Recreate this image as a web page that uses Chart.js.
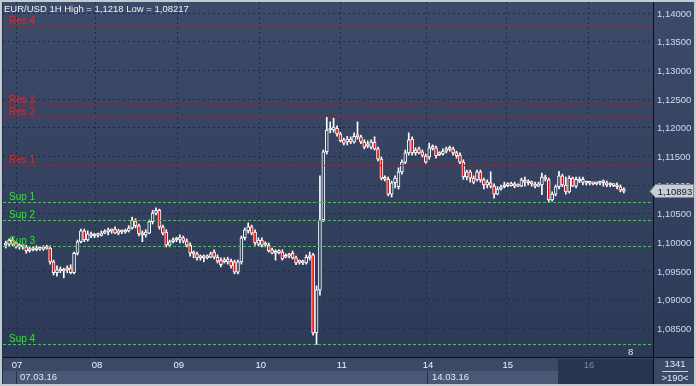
<!DOCTYPE html>
<html>
<head>
<meta charset="utf-8">
<script src="https://cdn.jsdelivr.net/npm/chart.js@4.4.0/dist/chart.umd.min.js"></script>
<style>
html, body { margin: 0; padding: 0; background: #c4cad2; }
canvas { display: block; }
</style>
</head>
<body>
<canvas id="chart" width="696" height="386"></canvas>
<script>
// EUR/USD 1H candles, 07.03.16 - 16.03.16
const opens = [
  1.0995, 1.0997, 1.1004, 1.0999, 1.0992, 1.0994, 1.0992, 1.0985, 1.0988, 1.0987,
  1.0990, 1.0988, 1.0992, 1.0990, 1.0966, 1.0947, 1.0952, 1.0950, 1.0952, 1.0955,
  1.0947, 1.0981, 1.1001, 1.1020, 1.1004, 1.1015, 1.1011, 1.1013, 1.1012, 1.1016,
  1.1018, 1.1022, 1.1023, 1.1016, 1.1020, 1.1018, 1.1020, 1.1025, 1.1037, 1.1029,
  1.1016, 1.1013, 1.1016, 1.1036, 1.1051, 1.1056, 1.1027, 1.1018, 1.0995, 1.1001,
  1.1004, 1.1004, 1.1008, 1.1002, 1.0995, 1.0981, 1.0980, 1.0973, 1.0974, 1.0973,
  1.0974, 1.0983, 1.0974, 1.0969, 1.0966, 1.0971, 1.0967, 1.0966, 1.0948, 1.0966,
  1.1008, 1.1020, 1.1027, 1.1018, 1.0997, 1.1004, 1.0995, 1.0995, 1.0987, 1.0981,
  1.0983, 1.0983, 1.0974, 1.0976, 1.0981, 1.0973, 1.0966, 1.0965, 1.0964, 1.0976,
  1.0978, 1.0842, 1.0917, 1.1039, 1.1158, 1.1196, 1.1196, 1.1199, 1.1189, 1.1179,
  1.1175, 1.1180, 1.1175, 1.1185, 1.1184, 1.1175, 1.1172, 1.1166, 1.1175, 1.1163,
  1.1145, 1.1112, 1.1110, 1.1084, 1.1104, 1.1097, 1.1123, 1.1140, 1.1156, 1.1180,
  1.1156, 1.1163, 1.1158, 1.1151, 1.1149, 1.1165, 1.1165, 1.1154, 1.1154, 1.1159,
  1.1163, 1.1163, 1.1156, 1.1152, 1.1140, 1.1114, 1.1123, 1.1112, 1.1109, 1.1123,
  1.1109, 1.1100, 1.1104, 1.1098, 1.1084, 1.1093, 1.1097, 1.1100, 1.1099, 1.1102,
  1.1098, 1.1098, 1.1107, 1.1105, 1.1104, 1.1100, 1.1098, 1.1100, 1.1114, 1.1109,
  1.1074, 1.1084, 1.1097, 1.1116, 1.1100, 1.1088, 1.1112, 1.1098, 1.1110, 1.1105,
  1.1104, 1.1103, 1.1104, 1.1102, 1.1103, 1.1107, 1.1104, 1.1100, 1.1100, 1.1099,
  1.1097, 1.1091
];
const highs = [
  1.1002, 1.1006, 1.1008, 1.1001, 1.0997, 1.0995, 1.0995, 1.0992, 1.0992, 1.0994,
  1.0992, 1.0994, 1.0995, 1.0994, 1.0969, 1.0959, 1.0957, 1.0955, 1.0959, 1.0961,
  1.0983, 1.1004, 1.1023, 1.1023, 1.1020, 1.1018, 1.1016, 1.1016, 1.1020, 1.1022,
  1.1025, 1.1023, 1.1027, 1.1023, 1.1022, 1.1023, 1.1029, 1.1044, 1.1041, 1.1032,
  1.1020, 1.1022, 1.1039, 1.1056, 1.1060, 1.1058, 1.1030, 1.1022, 1.1004, 1.1008,
  1.1009, 1.1013, 1.1011, 1.1006, 1.0999, 1.0985, 1.0983, 1.0978, 1.0978, 1.0978,
  1.0983, 1.0987, 1.0978, 1.0973, 1.0973, 1.0974, 1.0971, 1.0969, 1.0969, 1.1011,
  1.1025, 1.1034, 1.1030, 1.1022, 1.1008, 1.1008, 1.1001, 1.0999, 1.0990, 1.0987,
  1.0987, 1.0987, 1.0980, 1.0981, 1.0985, 1.0976, 1.0969, 1.0969, 1.0978, 1.0983,
  1.0981, 1.0924, 1.1116, 1.1161, 1.1218, 1.1210, 1.1217, 1.1203, 1.1192, 1.1182,
  1.1185, 1.1184, 1.1191, 1.1210, 1.1187, 1.1179, 1.1177, 1.1179, 1.1184, 1.1166,
  1.1149, 1.1116, 1.1114, 1.1107, 1.1116, 1.1130, 1.1144, 1.1161, 1.1191, 1.1184,
  1.1165, 1.1166, 1.1161, 1.1154, 1.1173, 1.1170, 1.1168, 1.1158, 1.1163, 1.1166,
  1.1168, 1.1166, 1.1159, 1.1156, 1.1144, 1.1126, 1.1126, 1.1116, 1.1126, 1.1126,
  1.1112, 1.1109, 1.1123, 1.1102, 1.1097, 1.1100, 1.1105, 1.1104, 1.1105, 1.1105,
  1.1102, 1.1112, 1.1114, 1.1109, 1.1107, 1.1105, 1.1105, 1.1121, 1.1117, 1.1112,
  1.1088, 1.1100, 1.1124, 1.1119, 1.1114, 1.1116, 1.1114, 1.1114, 1.1114, 1.1114,
  1.1107, 1.1105, 1.1105, 1.1105, 1.1107, 1.1109, 1.1107, 1.1104, 1.1102, 1.1104,
  1.1100, 1.1095
];
const lows = [
  1.0990, 1.0994, 1.0994, 1.0990, 1.0988, 1.0988, 1.0981, 1.0983, 1.0985, 1.0985,
  1.0986, 1.0986, 1.0988, 1.0962, 1.0943, 1.0941, 1.0947, 1.0938, 1.0947, 1.0945,
  1.0945, 1.0978, 1.0999, 1.1001, 1.1002, 1.1008, 1.1008, 1.1009, 1.1011, 1.1015,
  1.1013, 1.1016, 1.1015, 1.1013, 1.1015, 1.1016, 1.1018, 1.1023, 1.1025, 1.1011,
  1.1001, 1.1009, 1.1015, 1.1032, 1.1048, 1.1023, 1.1013, 1.0992, 1.0992, 1.0999,
  1.1001, 1.0999, 1.0999, 1.0992, 1.0976, 1.0973, 1.0969, 1.0969, 1.0966, 1.0971,
  1.0973, 1.0971, 1.0964, 1.0957, 1.0964, 1.0962, 1.0955, 1.0945, 1.0945, 1.0962,
  1.1004, 1.1016, 1.1013, 1.0995, 1.0994, 1.0992, 1.0992, 1.0983, 1.0980, 1.0969,
  1.0980, 1.0969, 1.0973, 1.0973, 1.0971, 1.0961, 1.0962, 1.0961, 1.0962, 1.0969,
  1.0838, 1.08217, 1.0908, 1.1036, 1.1154, 1.1191, 1.1192, 1.1185, 1.1175, 1.1170,
  1.1170, 1.1172, 1.1173, 1.1180, 1.1172, 1.1163, 1.1165, 1.1163, 1.1161, 1.1142,
  1.1109, 1.1107, 1.1081, 1.1079, 1.1095, 1.1093, 1.1119, 1.1137, 1.1152, 1.1152,
  1.1152, 1.1154, 1.1149, 1.1138, 1.1145, 1.1161, 1.1147, 1.1151, 1.1152, 1.1156,
  1.1159, 1.1152, 1.1147, 1.1137, 1.1110, 1.1109, 1.1105, 1.1102, 1.1107, 1.1105,
  1.1093, 1.1095, 1.1095, 1.1077, 1.1083, 1.1091, 1.1095, 1.1097, 1.1098, 1.1095,
  1.1097, 1.1097, 1.1098, 1.1100, 1.1098, 1.1095, 1.1097, 1.1083, 1.1107, 1.1070,
  1.1072, 1.1081, 1.1093, 1.1097, 1.1084, 1.1086, 1.1097, 1.1095, 1.1104, 1.1100,
  1.1100, 1.1100, 1.1100, 1.1100, 1.1100, 1.1098, 1.1097, 1.1097, 1.1097, 1.1093,
  1.1088, 1.1086
];
const closes = [
  1.0997, 1.1004, 1.0997, 1.0992, 1.0994, 1.0992, 1.0985, 1.0988, 1.0987, 1.0990,
  1.0988, 1.0992, 1.0990, 1.0966, 1.0947, 1.0952, 1.0950, 1.0952, 1.0955, 1.0947,
  1.0981, 1.1001, 1.1020, 1.1004, 1.1015, 1.1011, 1.1013, 1.1012, 1.1016, 1.1018,
  1.1022, 1.1020, 1.1016, 1.1020, 1.1018, 1.1020, 1.1025, 1.1039, 1.1029, 1.1015,
  1.1013, 1.1018, 1.1036, 1.1051, 1.1056, 1.1027, 1.1016, 1.0995, 1.1001, 1.1004,
  1.1005, 1.1009, 1.1002, 1.0995, 1.0981, 1.0980, 1.0973, 1.0974, 1.0973, 1.0974,
  1.0980, 1.0974, 1.0967, 1.0961, 1.0969, 1.0966, 1.0959, 1.0948, 1.0966, 1.1008,
  1.1022, 1.1027, 1.1016, 1.0999, 1.1004, 1.0995, 1.0997, 1.0985, 1.0981, 1.0983,
  1.0982, 1.0971, 1.0976, 1.0978, 1.0973, 1.0964, 1.0965, 1.0964, 1.0974, 1.0973,
  1.0842, 1.0917, 1.1039, 1.1158, 1.1196, 1.1199, 1.1201, 1.1189, 1.1177, 1.1173,
  1.1180, 1.1175, 1.1185, 1.1184, 1.1175, 1.1166, 1.1168, 1.1175, 1.1163, 1.1145,
  1.1112, 1.1110, 1.1084, 1.1104, 1.1112, 1.1123, 1.1140, 1.1156, 1.1179, 1.1156,
  1.1161, 1.1156, 1.1152, 1.1140, 1.1165, 1.1164, 1.1151, 1.1153, 1.1159, 1.1163,
  1.1162, 1.1156, 1.1151, 1.1140, 1.1114, 1.1123, 1.1112, 1.1105, 1.1123, 1.1109,
  1.1100, 1.1105, 1.1098, 1.1084, 1.1093, 1.1097, 1.1100, 1.1099, 1.1102, 1.1098,
  1.1099, 1.1109, 1.1105, 1.1104, 1.1102, 1.1098, 1.1102, 1.1114, 1.1110, 1.1074,
  1.1084, 1.1097, 1.1116, 1.1100, 1.1088, 1.1112, 1.1098, 1.1110, 1.1107, 1.1110,
  1.1103, 1.1104, 1.1102, 1.1103, 1.1104, 1.1104, 1.1100, 1.1100, 1.1099, 1.1097,
  1.1091, 1.10893
];

const dayTicks = [3.0, 26.4, 50.35, 74.35, 98.1, 123.35, 146.7, 170.5];
const dayLabels = ['07', '08', '09', '10', '11', '14', '15', '16'];
const priceTicks = [1.085, 1.09, 1.095, 1.1, 1.105, 1.11, 1.115, 1.12, 1.125, 1.13, 1.135, 1.14];
const levelNames = ['Res 4', 'Res 3', 'Res 2', 'Res 1', 'Sup 1', 'Sup 2', 'Sup 3', 'Sup 4'];
const levelValues = [1.1377, 1.1240, 1.1218, 1.1135, 1.1070, 1.1039, 1.0994, 1.0822];
const lastPrice = 1.10893;
const titleText = 'EUR/USD 1H High = 1,1218 Low = 1,08217';

const FONT = "'Liberation Sans', Arial, sans-serif";
const fmt = v => v.toFixed(5).replace('.', ',');

let plotGrad = null;
function plotFill(chart) {
  if (!plotGrad) {
    plotGrad = chart.ctx.createLinearGradient(0, 2, 0, 357);
    plotGrad.addColorStop(0, '#3d4b6a');
    plotGrad.addColorStop(1, '#2c3a57');
  }
  return plotGrad;
}

const bodies = opens.map((o, i) => ({ x: i, y: [Math.min(o, closes[i]), Math.max(o, closes[i])] }));
const wicks = highs.map((h, i) => ({ x: i, y: [lows[i], h] }));

const terminal = {
  id: 'terminal',
  beforeDraw(chart) {
    const ctx = chart.ctx;
    const a = chart.chartArea;
    ctx.save();
    ctx.fillStyle = '#c4cad2';
    ctx.fillRect(0, 0, 696, 386);
    ctx.fillStyle = plotFill(chart);
    ctx.fillRect(2, 2, 692, a.bottom - 2);
    ctx.fillStyle = '#3b4967';
    ctx.fillRect(2, a.bottom, 692, 384 - a.bottom);
    ctx.fillStyle = '#4a5876';
    ctx.fillRect(3, 371, 555, 13);
    ctx.fillStyle = '#29354f';
    ctx.fillRect(558, a.bottom + 2, a.right - 558, 384 - a.bottom - 2);
    ctx.restore();
  },
  afterDatasetsDraw(chart) {
    const ctx = chart.ctx;
    const a = chart.chartArea;
    const y = chart.scales.y;
    ctx.save();
    ctx.beginPath();
    ctx.rect(a.left, a.top, a.right - a.left, a.bottom - a.top);
    ctx.clip();
    levelValues.forEach((v, i) => {
      const res = levelNames[i].startsWith('Res');
      const py = Math.round(y.getPixelForValue(v)) + 0.5;
      ctx.strokeStyle = res ? '#cc1111' : '#22dd22';
      ctx.lineWidth = 1;
      ctx.setLineDash([3, 2]);
      ctx.beginPath();
      ctx.moveTo(a.left, py);
      ctx.lineTo(a.right, py);
      ctx.stroke();
      ctx.setLineDash([]);
      ctx.fillStyle = res ? '#ff1a1a' : '#22ee22';
      ctx.font = '10px ' + FONT;
      ctx.textBaseline = 'alphabetic';
      ctx.textAlign = 'left';
      ctx.fillText(levelNames[i], 9, py - 3);
    });
    ctx.restore();
  },
  afterDraw(chart) {
    const ctx = chart.ctx;
    const a = chart.chartArea;
    const x = chart.scales.x;
    const y = chart.scales.y;
    ctx.save();
    ctx.strokeStyle = '#0a0f18';
    ctx.lineWidth = 1;
    ctx.beginPath();
    ctx.moveTo(a.right + 0.5, 2);
    ctx.lineTo(a.right + 0.5, 384);
    ctx.moveTo(2, a.bottom + 0.5);
    ctx.lineTo(694, a.bottom + 0.5);
    ctx.stroke();
    ctx.strokeStyle = '#25324c';
    ctx.beginPath();
    ctx.moveTo(2.5, 2);
    ctx.lineTo(2.5, 384);
    ctx.moveTo(16.5, 371);
    ctx.lineTo(16.5, 384);
    ctx.moveTo(427.5, 371);
    ctx.lineTo(427.5, 384);
    ctx.stroke();

    // price axis labels
    ctx.font = '9.5px ' + FONT;
    ctx.fillStyle = '#cddbf2';
    ctx.textAlign = 'left';
    ctx.textBaseline = 'middle';
    priceTicks.forEach(v => ctx.fillText(fmt(v), a.right + 4, y.getPixelForValue(v) + 1));

    // day labels
    ctx.textAlign = 'center';
    dayTicks.forEach((t, i) => {
      ctx.fillStyle = i === 7 ? '#7c89a0' : '#eef2f8';
      ctx.fillText(dayLabels[i], x.getPixelForValue(t) + 1, 365);
    });

    // title
    ctx.textAlign = 'left';
    ctx.font = '9.5px ' + FONT;
    ctx.fillStyle = '#eef0f4';
    ctx.fillText(titleText, 4, 9);

    // date row
    ctx.font = '9.5px ' + FONT;
    ctx.fillStyle = '#e4e9f0';
    ctx.fillText('07.03.16', 20, 377);
    ctx.fillText('14.03.16', 432, 377);
    ctx.fillText('8', 628, 352);

    // bar counter box
    ctx.textAlign = 'center';
    ctx.fillText('1341', 675, 364);
    ctx.fillText('>190<', 675, 378);
    ctx.strokeStyle = '#c8d0dc';
    ctx.beginPath();
    ctx.moveTo(662, 371.5);
    ctx.lineTo(688, 371.5);
    ctx.stroke();

    // last price marker
    const py = Math.round(y.getPixelForValue(lastPrice));
    ctx.fillStyle = '#c9cdd3';
    ctx.strokeStyle = '#7e8796';
    ctx.beginPath();
    ctx.moveTo(650, py + 0.5);
    ctx.lineTo(655.5, py - 6.5);
    ctx.lineTo(693.5, py - 6.5);
    ctx.lineTo(693.5, py + 6.5);
    ctx.lineTo(655.5, py + 6.5);
    ctx.closePath();
    ctx.fill();
    ctx.stroke();
    ctx.fillStyle = '#15181e';
    ctx.font = '9.5px ' + FONT;
    ctx.textBaseline = 'middle';
    ctx.fillText(fmt(lastPrice), 675, py + 1);
    ctx.restore();
  }
};

new Chart(document.getElementById('chart'), {
  type: 'bar',
  data: {
    datasets: [{
      label: 'body',
      data: bodies,
      backgroundColor: c => closes[c.dataIndex] < opens[c.dataIndex] ? '#ff0000' : plotFill(c.chart),
      borderColor: '#ffffff',
      borderWidth: 1,
      borderSkipped: false,
      barThickness: 3,
      minBarLength: 2,
      grouped: false,
      order: 0
    }, {
      label: 'wick',
      data: wicks,
      backgroundColor: '#ffffff',
      borderWidth: 0,
      barThickness: 1,
      grouped: false,
      order: 1
    }]
  },
  options: {
    responsive: false,
    animation: false,
    events: [],
    layout: { padding: { left: 3, top: 2, right: 3, bottom: 2 } },
    plugins: { legend: { display: false }, tooltip: { enabled: false } },
    scales: {
      x: {
        type: 'linear',
        offset: false,
        min: -0.807,
        max: 189.53,
        afterBuildTicks: s => { s.ticks = dayTicks.map(v => ({ value: v })); },
        afterFit: s => { s.height = 27; },
        ticks: { display: false },
        grid: { color: '#1c2b4a', lineWidth: 1, drawTicks: false, offset: false },
        border: { display: false, dash: [2, 3] }
      },
      y: {
        position: 'right',
        min: 1.08,
        max: 1.14192,
        afterBuildTicks: s => { s.ticks = priceTicks.map(v => ({ value: v })); },
        afterFit: s => { s.width = 40; },
        ticks: { display: false },
        grid: { color: '#1c2b4a', lineWidth: 1, drawTicks: false },
        border: { display: false, dash: [2, 3] }
      }
    }
  },
  plugins: [terminal]
});
</script>
</body>
</html>
